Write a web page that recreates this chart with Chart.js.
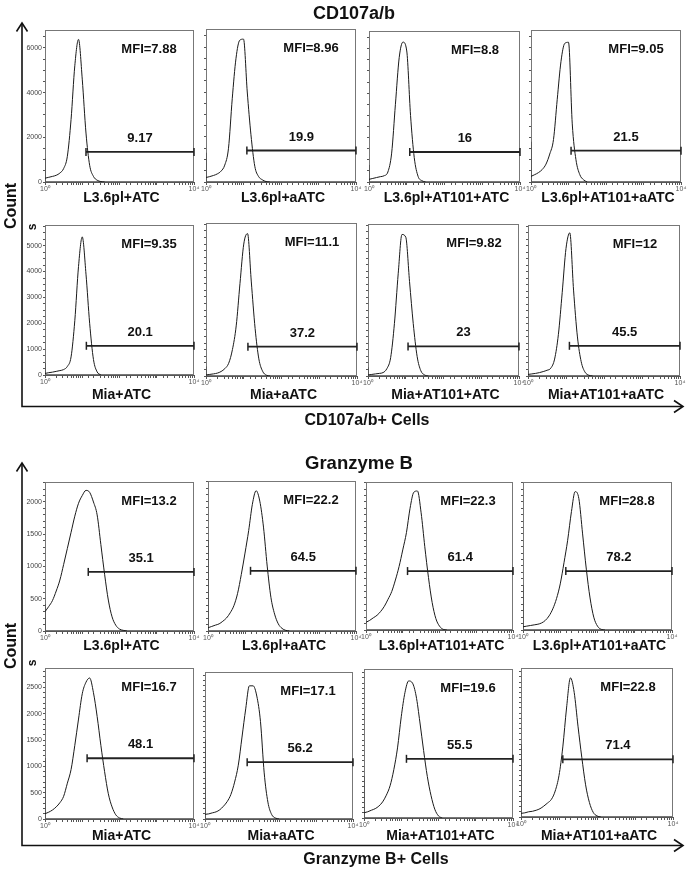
<!DOCTYPE html>
<html>
<head>
<meta charset="utf-8">
<script src="https://cdn.jsdelivr.net/npm/chart.js@4.4.0/dist/chart.umd.min.js"></script>
<style>
body { margin: 0; background: #fff; }
#page { position: relative; width: 689px; height: 872px; overflow: hidden; font-family: "Liberation Sans", Arial, sans-serif; }
canvas.panel { position: absolute; }
.txt { position: absolute; font-weight: bold; white-space: nowrap; color: #111; line-height: 1; transform: translate(-50%, -50%); }
</style>
</head>
<body>
<div id="page">
<svg width="689" height="872" style="position:absolute;left:0;top:0">
  <g stroke="#111" stroke-width="1.6" fill="none">
    <path d="M22 24 V406.5 H682"/>
    <path d="M16.5 31.5 L22 23 L27.5 31.5"/>
    <path d="M674 400.5 L683 406.5 L674 412.5"/>
    <path d="M22 464 V845.5 H682"/>
    <path d="M16.5 471.5 L22 463 L27.5 471.5"/>
    <path d="M674 839.5 L683 845.5 L674 851.5"/>
  </g>
</svg>
</div>
<script>
// fluorescence channels (0.1 decade steps), shared by every histogram
var fluor = [1, 1.26, 1.58, 2.0, 2.51, 3.16, 3.98, 5.01, 6.31, 7.94, 10, 12.6, 15.8, 20.0, 25.1, 31.6, 39.8, 50.1, 63.1, 79.4, 100, 126, 158, 200, 251];

// ---- CD107a/b ----
var cdNames = ['L3.6pl+ATC', 'L3.6pl+aATC', 'L3.6pl+AT101+ATC', 'L3.6pl+AT101+aATC',
               'Mia+ATC', 'Mia+aATC', 'Mia+AT101+ATC', 'Mia+AT101+aATC'];
var cdMfi = ['7.88', '8.96', '8.8', '9.05', '9.35', '11.1', '9.82', '12'];
var cdGatePct = ['9.17', '19.9', '16', '21.5', '20.1', '37.2', '23', '45.5'];
var cdGateStart = [12.6, 12.3, 12.0, 11.7, 12.9, 12.9, 11.5, 12.3];
var cdGateLevel = [1345, 1400, 1350, 1400, 1130, 1110, 1130, 1160];
var cdSpike = [1060, 1300, 760, 1800, 460, 360, 330, 200];
var cdCounts = [
    [170, 210, 250, 300, 400, 600, 1150, 2800, 5200, 6380, 4600, 2190, 750, 250, 80, 20, 0],
    [200, 240, 290, 360, 480, 750, 1500, 3700, 5500, 6300, 6350, 4000, 2100, 700, 250, 100, 20, 0],
    [120, 160, 200, 240, 280, 450, 1300, 3500, 5600, 6300, 5900, 3000, 1100, 250, 60, 0],
    [250, 330, 420, 560, 800, 1250, 1900, 3700, 5400, 6200, 6250, 2600, 1000, 330, 100, 0],
    [60, 90, 110, 140, 170, 210, 330, 700, 2100, 4200, 5340, 3900, 2000, 600, 120, 0],
    [40, 60, 80, 110, 170, 280, 480, 1000, 1900, 3500, 5000, 5400, 3600, 1800, 650, 180, 30, 0],
    [40, 60, 80, 100, 130, 280, 700, 2000, 3900, 5400, 5300, 3600, 2000, 750, 200, 40, 0],
    [60, 80, 100, 130, 170, 220, 300, 650, 1600, 3200, 4900, 5500, 3300, 1500, 550, 150, 30, 0]
];
var cdYMax = [6800, 5800];
var cdYStep = [500, 250];
var cdYLabelStep = [2000, 1000];

// ---- Granzyme B ----
var grNames = cdNames;
var grMfi = ['13.2', '22.2', '22.3', '28.8', '16.7', '17.1', '19.6', '22.8'];
var grGatePct = ['35.1', '64.5', '61.4', '78.2', '48.1', '56.2', '55.5', '71.4'];
var grGateStart = [14.5, 14.1, 13.5, 14.1, 13.5, 13.8, 13.8, 12.6];
var grGateLevel = [916, 927, 920, 920, 1155, 1110, 1140, 1110];
var grSpike = [420, 1400, 0, 700, 1160, 1550, 800, 1400];
var grCounts = [
    [300, 380, 470, 620, 790, 1030, 1280, 1530, 1780, 1980, 2100, 2180, 2150, 2000, 1800, 1340, 880, 480, 220, 90, 30, 10, 0],
    [50, 70, 90, 110, 150, 200, 280, 390, 580, 870, 1200, 1550, 1950, 2160, 2000, 1600, 1000, 520, 260, 110, 40, 10, 0],
    [120, 150, 190, 230, 290, 370, 480, 600, 780, 990, 1250, 1520, 1900, 2150, 2170, 1830, 1300, 820, 430, 180, 60, 10, 0],
    [50, 60, 70, 80, 90, 110, 150, 220, 330, 490, 720, 1050, 1400, 1850, 2160, 2050, 1500, 950, 500, 200, 60, 10, 0],
    [100, 130, 170, 230, 310, 430, 680, 940, 1400, 1900, 2380, 2600, 2680, 2400, 1950, 1400, 900, 480, 230, 80, 20, 0],
    [90, 100, 120, 140, 180, 250, 340, 480, 720, 1050, 1600, 2150, 2600, 2600, 2400, 1900, 900, 330, 90, 20, 0],
    [100, 120, 150, 180, 230, 310, 440, 620, 930, 1350, 1950, 2420, 2640, 2600, 2350, 1850, 1300, 800, 430, 170, 40, 0],
    [70, 80, 100, 110, 130, 160, 210, 270, 340, 500, 800, 1350, 2100, 2680, 2400, 1750, 1150, 620, 280, 90, 20, 0]
];
var grYMax = [2310, 2870];
var grYStep = [100, 100];
var grYLabelStep = [500, 500];

// plot frames [left, top, right, bottom] in page pixels
var cdFrames = [[45,30,194,182],[206,29,356,182],[369,31,520,182],[531,30,681,182],
                [45,225,194,375],[206,223,357,376],[368,224,519,376],[528,225,680,376]];
var grFrames = [[45,482,194,631],[208,481,356,631],[366,482,513,630],[523,482,672,630],
                [45,668,194,819],[205,672,353,819],[364,669,513,818],[521,668,673,817]];
var cdNameY = [197, 394];
var grNameY = [645, 835];

var page = document.getElementById('page');

function addText(str, x, y, size, rot) {
    var d = document.createElement('div');
    d.className = 'txt';
    d.textContent = str;
    d.style.left = x + 'px';
    d.style.top = y + 'px';
    d.style.fontSize = size + 'px';
    if (rot) d.style.transform = 'translate(-50%, -50%) rotate(' + rot + 'deg)';
    page.appendChild(d);
}

var framePlugin = {
    id: 'frame',
    beforeDatasetsDraw: function(chart) {
        var a = chart.chartArea, c = chart.ctx;
        c.save();
        c.strokeStyle = '#777';
        c.lineWidth = 1;
        c.strokeRect(Math.round(a.left) + 0.5, Math.round(a.top) + 0.5,
                     Math.round(a.right - a.left) - 1, Math.round(a.bottom - a.top) - 1);
        c.restore();
    }
};

function buildPanel(frame, counts, spike, gateStart, gateLevel, yMax, yStep, yLabelStep, showY) {
    var padL = 34, padT = 6, padR = 8, padB = 16;
    var w = frame[2] - frame[0] + padL + padR;
    var h = frame[3] - frame[1] + padT + padB;
    var cv = document.createElement('canvas');
    cv.className = 'panel';
    cv.width = w; cv.height = h;
    cv.style.width = w + 'px'; cv.style.height = h + 'px';
    cv.style.left = (frame[0] - padL) + 'px';
    cv.style.top = (frame[1] - padT) + 'px';
    page.appendChild(cv);

    var hist = counts.map(function(c, i) { return {x: fluor[i], y: c}; });

    var chart = new Chart(cv.getContext('2d'), {
        type: 'line',
        data: {
            datasets: [{
                data: hist,
                borderColor: '#1a1a1a',
                borderWidth: 1,
                pointRadius: 0,
                cubicInterpolationMode: 'monotone'
            }, {
                data: [{x: fluor[0], y: 0}, {x: fluor[0], y: spike}],
                borderColor: '#444',
                borderWidth: 1.2,
                pointRadius: 0
            }, {
                data: [{x: gateStart, y: gateLevel}, {x: 10000, y: gateLevel}],
                borderColor: '#222',
                borderWidth: 1.8,
                pointStyle: 'line',
                rotation: 90,
                pointRadius: 4,
                pointBorderWidth: 1.5,
                pointBorderColor: '#222',
                clip: false
            }]
        },
        options: {
            responsive: false,
            animation: false,
            devicePixelRatio: 1,
            events: [],
            layout: {padding: {left: 0, top: padT, right: padR, bottom: 0}},
            plugins: {legend: {display: false}, tooltip: {enabled: false}},
            scales: {
                x: {
                    type: 'logarithmic',
                    min: 1, max: 10000,
                    afterFit: function(s) { s.height = padB; },
                    border: {display: true, color: '#555'},
                    grid: {drawOnChartArea: false, drawTicks: true, tickLength: 3, color: '#555'},
                    ticks: {
                        autoSkip: false, maxRotation: 0, padding: 0,
                        font: {size: 7}, color: '#555',
                        callback: function(v) { return v === 1 ? '10\u2070' : (v === 10000 ? '10\u2074' : ''); }
                    }
                },
                y: {
                    min: 0, max: yMax,
                    afterFit: function(s) { s.width = padL; },
                    afterBuildTicks: function(s) {
                        var t = [];
                        for (var v = 0; v <= yMax; v += yStep) t.push({value: v});
                        s.ticks = t;
                    },
                    border: {display: true, color: '#555'},
                    grid: {drawOnChartArea: false, drawTicks: true, tickLength: 2, color: '#555'},
                    ticks: {
                        autoSkip: false, padding: 1,
                        font: {size: 7}, color: '#444',
                        callback: function(v) { return (showY && v % yLabelStep === 0) ? String(v) : ''; }
                    }
                }
            }
        },
        plugins: [framePlugin]
    });
    return {chart: chart, left: frame[0] - padL, top: frame[1] - padT};
}

function buildGroup(frames, counts, spikes, gStart, gLevel, yMax, yStep, yLab, names, mfi, pct, nameY) {
    for (var i = 0; i < 8; i++) {
        var row = Math.floor(i / 4), col = i % 4;
        var f = frames[i];
        var p = buildPanel(f, counts[i], spikes[i], gStart[i], gLevel[i],
                           yMax[row], yStep[row], yLab[row], col === 0);
        var xs = p.chart.scales.x, ys = p.chart.scales.y;
        var gx = (xs.getPixelForValue(gStart[i]) + xs.getPixelForValue(10000)) / 2 + p.left;
        var gy = ys.getPixelForValue(gLevel[i]) + p.top - 15;
        addText(pct[i], gx, gy, 13);
        addText('MFI=' + mfi[i], f[2] - 45, f[1] + 18, 13);
        addText(names[i], (f[0] + f[2]) / 2 + 2, nameY[row], 14);
    }
}

buildGroup(cdFrames, cdCounts, cdSpike, cdGateStart, cdGateLevel, cdYMax, cdYStep, cdYLabelStep,
           cdNames, cdMfi, cdGatePct, cdNameY);
buildGroup(grFrames, grCounts, grSpike, grGateStart, grGateLevel, grYMax, grYStep, grYLabelStep,
           grNames, grMfi, grGatePct, grNameY);

addText('CD107a/b', 354, 13, 18);
addText('Count', 11, 206, 16, -90);
addText('s', 32, 227, 12, -90);
addText('CD107a/b+ Cells', 367, 420, 16);
addText('Granzyme B', 359, 463, 18.5);
addText('Count', 11, 646, 16, -90);
addText('s', 32, 663, 12, -90);
addText('Granzyme B+ Cells', 376, 859, 16);
</script>
</body>
</html>
